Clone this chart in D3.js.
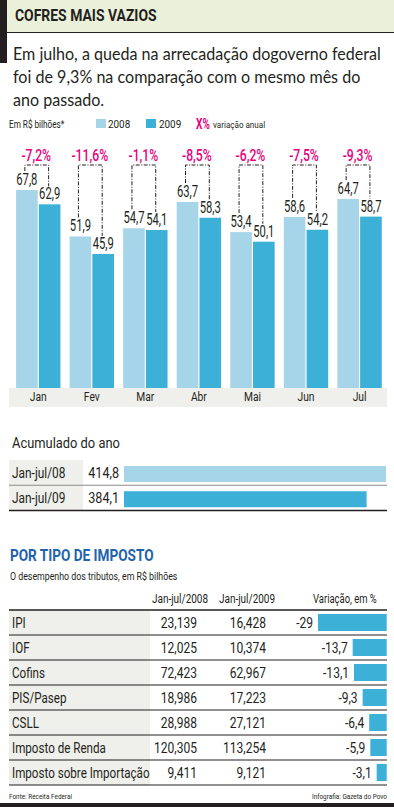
<!DOCTYPE html>
<html>
<head>
<meta charset="utf-8">
<script src="https://cdn.jsdelivr.net/npm/d3@7"></script>
<style>
  html, body { margin: 0; padding: 0; background: #fff; }
  svg { display: block; font-family: Roboto, "Liberation Sans", sans-serif; }
</style>
</head>
<body>
<svg id="chart" width="394" height="807"></svg>
<script>
'use strict';

// monthly federal revenue, R$ billions
const months = ['Jan', 'Fev', 'Mar', 'Abr', 'Mai', 'Jun', 'Jul'];
const values2008 = [67.8, 51.9, 54.7, 63.7, 53.4, 58.6, 64.7];
const values2009 = [62.9, 45.9, 54.1, 58.3, 50.1, 54.2, 58.7];
const monthChange = [-7.2, -11.6, -1.1, -8.5, -6.2, -7.5, -9.3];

// year to date
const accLabels = ['Jan-jul/08', 'Jan-jul/09'];
const accValues = [414.8, 384.1];

// by tax type
const taxNames = ['IPI', 'IOF', 'Cofins', 'PIS/Pasep', 'CSLL', 'Imposto de Renda', 'Imposto sobre Importação'];
const taxes2008 = [23.139, 12.025, 72.423, 18.986, 28.988, 120.305, 9.411];
const taxes2009 = [16.428, 10.374, 62.967, 17.223, 27.121, 113.254, 9.121];
const taxChange = [-29, -13.7, -13.1, -9.3, -6.4, -5.9, -3.1];

const INK = '#231f20';
const C2008 = '#a6d5ea';
const C2009 = '#3cb0d7';
const MAGENTA = '#e5007e';
const GREY_BG = '#efefeb';

const br = d3.formatLocale({decimal: ',', thousands: '.', grouping: [3], currency: ['R$', ''], minus: '-'});
const f1 = br.format('.1f');
const f3 = br.format('.3f');

const svg = d3.select('#chart');

// text helper: horizontal squeeze to mimic the condensed newspaper face
function label(parent, x, y, str, o) {
    o = o || {};
    return parent.append('text')
        .attr('transform', 'translate(' + x + ',' + y + ') scale(' + (o.sx || 1) + ',1)')
        .attr('text-anchor', o.anchor || 'start')
        .attr('font-size', o.size || 12)
        .attr('font-weight', o.weight || 400)
        .attr('font-family', o.family || null)
        .attr('fill', o.fill || INK)
        .text(str);
}

// ---- header
svg.append('rect').attr('x', 7).attr('y', 0).attr('width', 387).attr('height', 32).attr('fill', '#eaf0da');
svg.append('rect').attr('x', 0).attr('y', 0).attr('width', 7).attr('height', 63).attr('fill', INK);
svg.append('line').attr('x1', 7).attr('x2', 394).attr('y1', 32.5).attr('y2', 32.5).attr('stroke', INK);
label(svg, 15, 21, 'COFRES MAIS VAZIOS', {size: 17, weight: 700, sx: 0.82});

const intro = ['Em julho, a queda na arrecadação dogoverno federal',
    'foi de 9,3% na comparação com o mesmo mês do',
    'ano passado.'];
intro.forEach(function(s, i) {
    label(svg, 13, 60 + i * 23, s, {size: 17.5, family: 'Lato', sx: 0.92});
});

// ---- legend
label(svg, 9, 128, 'Em R$ bilhões*', {size: 10, sx: 0.82});
svg.append('rect').attr('x', 96).attr('y', 119).attr('width', 10).attr('height', 9).attr('fill', C2008);
label(svg, 108, 128, '2008', {size: 11, sx: 0.9});
svg.append('rect').attr('x', 146).attr('y', 119).attr('width', 10).attr('height', 9).attr('fill', C2009);
label(svg, 159, 128, '2009', {size: 11, sx: 0.9});
label(svg, 196, 129, 'X%', {size: 14, weight: 700, fill: MAGENTA, sx: 0.72});
label(svg, 213, 128, 'variação anual', {size: 9.5, sx: 0.85});

// ---- monthly bars
const x = d3.scaleBand().domain(months).range([11.5, 386.3]).paddingInner(0.171).paddingOuter(0.085);
const xs = d3.scaleBand().domain(['2008', '2009']).range([0, x.bandwidth()]).paddingInner(0.05);
const y = d3.scaleLinear().domain([0, 70]).range([388, 388 - 70 * 2.92]);

svg.append('rect').attr('x', 9).attr('y', 388).attr('width', 378).attr('height', 19).attr('fill', GREY_BG);

const groups = svg.append('g').selectAll('g')
    .data(months.map(function(m, i) {
        return {month: m, v8: values2008[i], v9: values2009[i], ch: monthChange[i]};
    }))
    .join('g')
    .attr('transform', function(d) { return 'translate(' + x(d.month) + ',0)'; });

groups.append('rect')
    .attr('x', xs('2008')).attr('width', xs.bandwidth())
    .attr('y', function(d) { return y(d.v8); })
    .attr('height', function(d) { return y(0) - y(d.v8); })
    .attr('fill', C2008);
groups.append('rect')
    .attr('x', xs('2009')).attr('width', xs.bandwidth())
    .attr('y', function(d) { return y(d.v9); })
    .attr('height', function(d) { return y(0) - y(d.v9); })
    .attr('fill', C2009);

const BRACKET_TOP = 165;
groups.append('path')
    .attr('d', function(d) {
        const a = xs('2008') + xs.bandwidth() / 2 - 2;
        const b = xs('2009') + xs.bandwidth() / 2 - 1;
        return 'M' + a + ',' + (y(d.v8) - 19) + 'V' + BRACKET_TOP + 'H' + b + 'V' + (y(d.v9) - 18);
    })
    .attr('fill', 'none')
    .attr('stroke', INK)
    .attr('stroke-width', 1)
    .attr('stroke-dasharray', '4,1.5,1,1.5');

groups.each(function(d) {
    const g = d3.select(this);
    const c8 = xs('2008') + xs.bandwidth() / 2;
    const c9 = xs('2009') + xs.bandwidth() / 2;
    label(g, c8, y(d.v8) - 5, f1(d.v8), {size: 17, anchor: 'middle', sx: 0.66});
    label(g, c9, y(d.v9) - 5, f1(d.v9), {size: 17, anchor: 'middle', sx: 0.66});
    label(g, x.bandwidth() / 2 - 2, 160.5, f1(d.ch) + '%', {size: 16.5, weight: 500, anchor: 'middle', fill: MAGENTA, sx: 0.74});
    label(g, x.bandwidth() / 2, 401, d.month, {size: 12.5, anchor: 'middle', sx: 0.82});
});

// ---- year to date
label(svg, 12, 448, 'Acumulado do ano', {size: 15, sx: 0.86});
const accY = d3.scaleBand().domain(accLabels).range([460, 510.5]);
const accX = d3.scaleLinear().domain([0, 414.8]).range([124, 386]);
svg.append('rect').attr('x', 9).attr('y', 460).attr('width', 74).attr('height', 50.5).attr('fill', GREY_BG);
accLabels.forEach(function(l, i) {
    const top = accY(l);
    svg.append('rect')
        .attr('x', accX(0)).attr('y', top + 6)
        .attr('width', accX(accValues[i]) - accX(0)).attr('height', 16)
        .attr('fill', i === 0 ? C2008 : C2009);
    label(svg, 12, top + 18, l, {size: 14, sx: 0.85});
    label(svg, 119, top + 18, f1(accValues[i]), {size: 14, anchor: 'end', sx: 0.9});
    svg.append('line').attr('x1', 9).attr('x2', 387)
        .attr('y1', top + accY.bandwidth()).attr('y2', top + accY.bandwidth())
        .attr('stroke', i === 0 ? '#8c8c8c' : INK).attr('stroke-width', i === 0 ? 1 : 1.5);
});

// ---- by tax type
label(svg, 10, 561, 'POR TIPO DE IMPOSTO', {size: 16, weight: 700, fill: '#1f63ad', sx: 0.85});
label(svg, 10, 580, 'O desempenho dos tributos, em R$ bilhões', {size: 11, sx: 0.8});
label(svg, 152, 603, 'Jan-jul/2008', {size: 13.5, sx: 0.74});
label(svg, 219, 603, 'Jan-jul/2009', {size: 13.5, sx: 0.74});
label(svg, 313, 603, 'Variação, em %', {size: 13.5, sx: 0.7});

const rowY = d3.scaleBand().domain(taxNames).range([610, 785]);
const chX = d3.scaleLinear().domain([0, 29]).range([3, 68.7]);
const RIGHT = 386.7;

svg.append('rect').attr('x', 9).attr('y', 610).attr('width', 141).attr('height', 175).attr('fill', GREY_BG);

taxNames.forEach(function(n, i) {
    const top = rowY(n);
    const base = top + 18;
    const w = chX(Math.abs(taxChange[i]));
    svg.append('rect')
        .attr('x', RIGHT - w).attr('y', top + 4)
        .attr('width', w).attr('height', 17)
        .attr('fill', C2009);
    label(svg, 12, base, n, {size: 14, sx: 0.83});
    label(svg, 197, base, f3(taxes2008[i]), {size: 14, anchor: 'end', sx: 0.86});
    label(svg, 266, base, f3(taxes2009[i]), {size: 14, anchor: 'end', sx: 0.86});
    const ch = Number.isInteger(taxChange[i]) ? String(taxChange[i]) : f1(taxChange[i]);
    label(svg, RIGHT - w - 5, base, ch, {size: 14, anchor: 'end', sx: 0.86});
    svg.append('line').attr('x1', 9).attr('x2', 387)
        .attr('y1', top + rowY.bandwidth()).attr('y2', top + rowY.bandwidth())
        .attr('stroke', INK).attr('stroke-width', 1);
});
svg.append('line').attr('x1', 9).attr('x2', 387).attr('y1', 610).attr('y2', 610)
    .attr('stroke', INK).attr('stroke-width', 1.5);

// ---- footer
label(svg, 9, 799, 'Fonte: Receita Federal', {size: 8, sx: 0.8});
label(svg, 387, 799, 'Infografia: Gazeta do Povo', {size: 8, anchor: 'end', sx: 0.8});
svg.append('rect').attr('x', 0).attr('y', 803).attr('width', 394).attr('height', 4).attr('fill', INK);
</script>
</body>
</html>
